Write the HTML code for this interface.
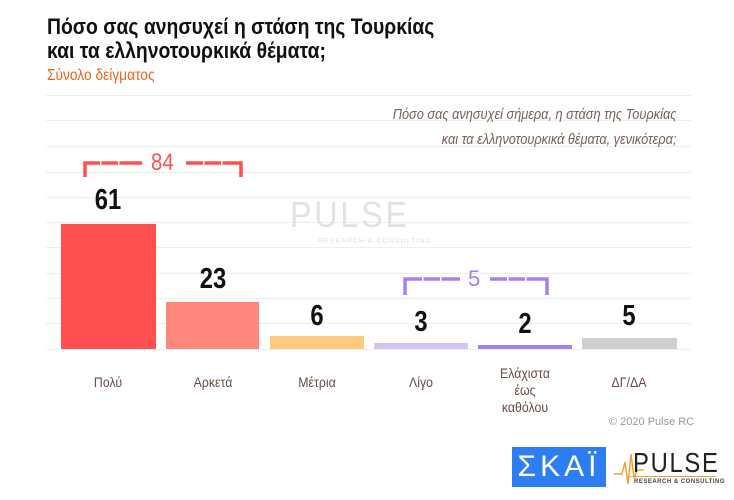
<!DOCTYPE html>
<html><head><meta charset="utf-8"><style>
body{margin:0;width:734px;height:500px;background:#fff;position:relative;overflow:hidden;font-family:"Liberation Sans","DejaVu Sans",sans-serif}
.a{position:absolute;white-space:nowrap}
.g{position:absolute;left:46px;width:646px;height:1px;background:#eeeeee}
.bar{position:absolute;bottom:151px}
.v{position:absolute;font-weight:bold;font-size:29px;color:#111;text-align:center;width:94px;transform:scaleX(0.82)}
.l{position:absolute;font-size:14px;color:#6b4a44;text-align:center;width:110px;line-height:17px;transform:scaleX(0.88)}
</style></head><body>
<div class="a" style="left:47px;top:15px;font-size:22px;font-weight:bold;line-height:24px;color:#111;transform:scaleX(0.88);transform-origin:left">Πόσο σας ανησυχεί η στάση της Τουρκίας<br>και τα ελληνοτουρκικά θέματα;</div>
<div class="a" style="left:47px;top:67px;font-size:16px;color:#f0641e;transform:scaleX(0.86);transform-origin:left">Σύνολο δείγματος</div>
<div class="g" style="top:95px"></div><div class="g" style="top:120px"></div><div class="g" style="top:146px"></div><div class="g" style="top:172px"></div><div class="g" style="top:197px"></div><div class="g" style="top:222px"></div><div class="g" style="top:247px"></div><div class="g" style="top:273px"></div><div class="g" style="top:298px"></div><div class="g" style="top:323px"></div><div class="g" style="top:349px"></div>
<div class="a" style="right:58px;top:103px;font-size:14.5px;font-style:italic;color:#7a5e58;line-height:25px;text-align:right;transform:scaleX(0.88);transform-origin:right">Πόσο σας ανησυχεί σήμερα, η στάση της Τουρκίας<br>και τα ελληνοτουρκικά θέματα, γενικότερα;</div>
<div class="a" style="left:290px;top:194px;font-size:36px;color:#e2e2e2;letter-spacing:3px;transform:scaleX(0.9);transform-origin:left">PULSE</div>
<div class="a" style="left:318px;top:238px;font-size:7px;color:#e0e0e0;letter-spacing:1px">RESEARCH &amp; CONSULTING</div>
<div class="bar" style="left:61px;width:95px;height:125px;background:#ff4f4f"></div>
<div class="bar" style="left:166px;width:93px;height:47px;background:#ff877c"></div>
<div class="bar" style="left:270px;width:94px;height:13px;background:#fccc7c"></div>
<div class="bar" style="left:374px;width:94px;height:6px;background:#d4c4ee"></div>
<div class="bar" style="left:478px;width:94px;height:4px;background:#a87ef5"></div>
<div class="bar" style="left:582px;width:95px;height:11px;background:#cfcfcf"></div>
<div class="v" style="left:61px;top:184px">61</div>
<div class="v" style="left:166px;top:263px">23</div>
<div class="v" style="left:270px;top:300px">6</div>
<div class="v" style="left:374px;top:306px">3</div>
<div class="v" style="left:478px;top:308px">2</div>
<div class="v" style="left:582px;top:300px">5</div>
<svg class="a" style="left:0;top:0" width="734" height="500">
<path d="M85 177V163H142M186 163H241V177" fill="none" stroke="#ff4f4f" stroke-width="3.5"/>
<path d="M100 163h1.5M118 163h1.5M203 163h1.5M221 163h1.5" stroke="#fff" stroke-width="4"/>
<path d="M405 295V279H460M490 279H547V295" fill="none" stroke="#a87ef5" stroke-width="3.5"/>
<path d="M422 279h1.5M440 279h1.5M507 279h1.5M525 279h1.5" stroke="#fff" stroke-width="4"/>
</svg>
<div class="a" style="left:149px;top:149px;font-size:24px;color:#ff4f4f;transform:scaleX(0.85)">84</div>
<div class="a" style="left:468px;top:266px;font-size:22px;color:#a87ef5">5</div>
<div class="l" style="left:53px;top:374px">Πολύ</div>
<div class="l" style="left:158px;top:374px">Αρκετά</div>
<div class="l" style="left:262px;top:374px">Μέτρια</div>
<div class="l" style="left:366px;top:374px">Λίγο</div>
<div class="l" style="left:470px;top:365px">Ελάχιστα<br>έως<br>καθόλου</div>
<div class="l" style="left:574px;top:374px">ΔΓ/ΔΑ</div>
<div class="a" style="left:609px;top:416px;font-size:11px;color:#999">© 2020 Pulse RC</div>
<div class="a" style="left:512px;top:447px;width:94px;height:40px;background:#2d7ef2;color:#fff;font-size:30px;line-height:40px;text-align:center;letter-spacing:4px">ΣΚΑΪ</div>
<svg class="a" style="left:614px;top:448px" width="30" height="40"><path d="M0 26H8L11 14L14 36L17 6L20 30L23 22H30" fill="none" stroke="#f5a030" stroke-width="1.5"/></svg>
<div class="a" style="left:633px;top:448px;font-size:28px;color:#222;letter-spacing:2px;line-height:30px;transform:scaleX(0.85);transform-origin:left">PULSE</div>
<div class="a" style="left:628px;top:476px;width:88px;height:1px;background:#f5a030"></div>
<div class="a" style="left:634px;top:479px;font-size:6px;color:#444;letter-spacing:0.5px;font-weight:bold">RESEARCH &amp; CONSULTING</div>
</body></html>
